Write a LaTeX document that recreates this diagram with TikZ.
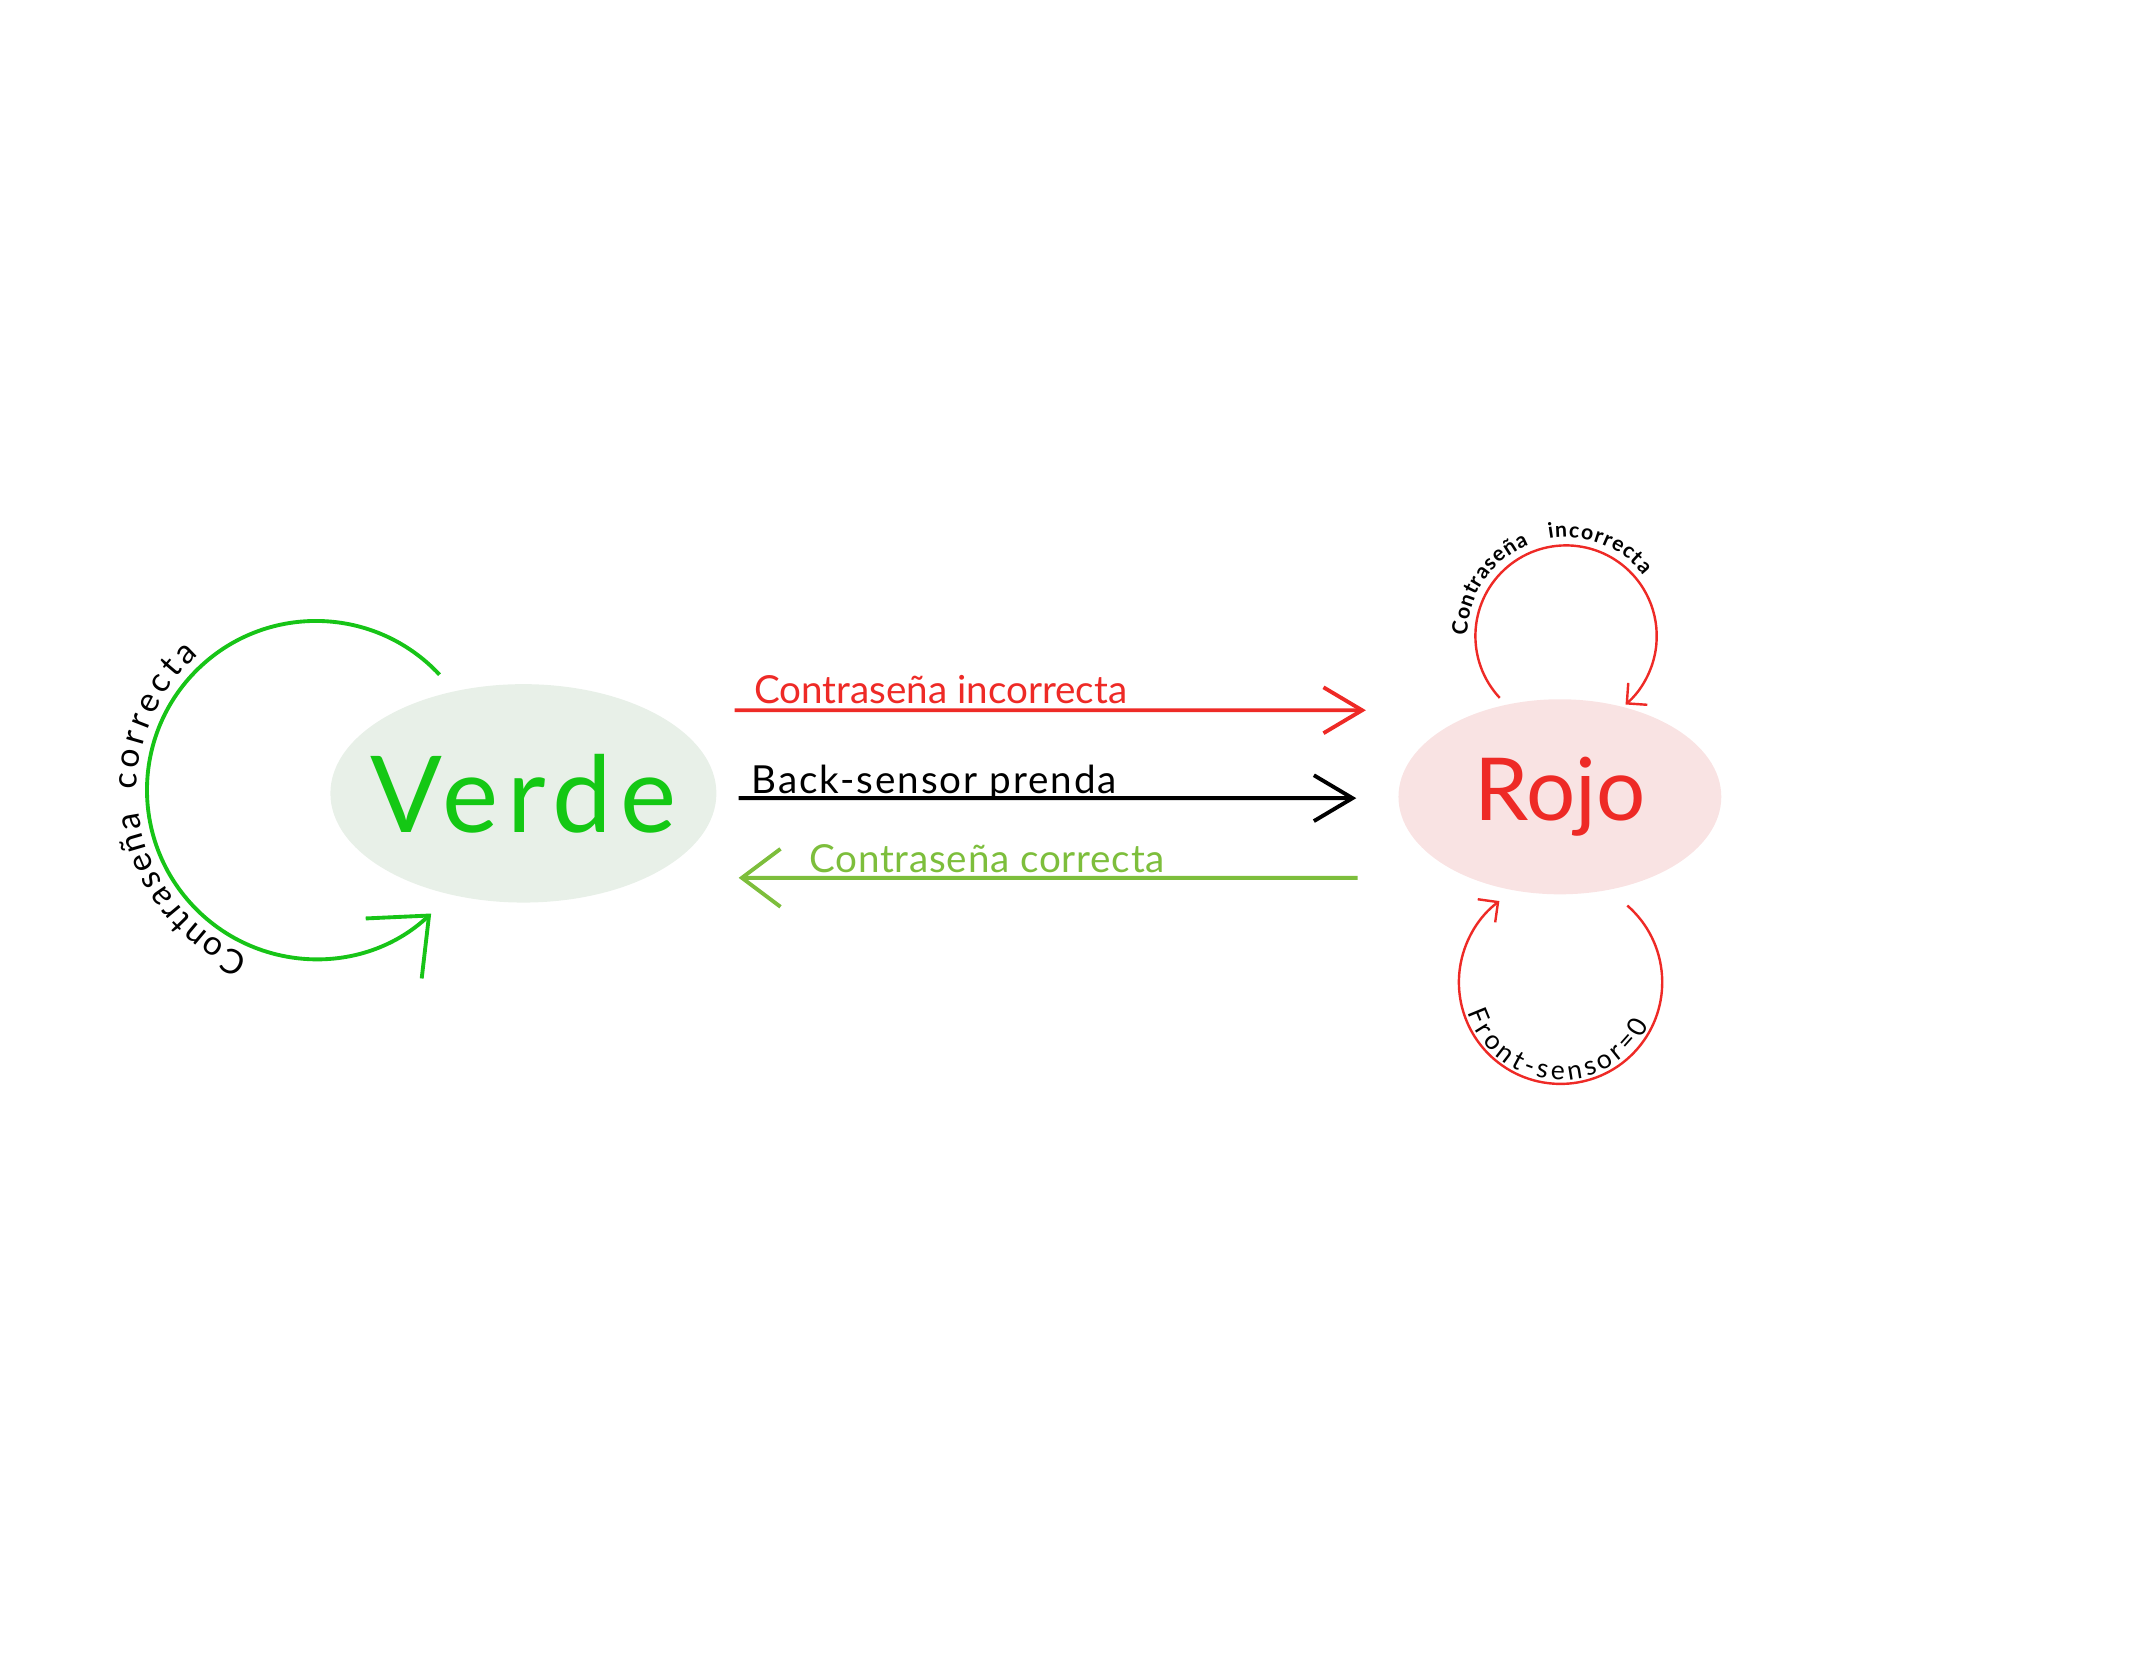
\documentclass[tikz,border=0pt]{standalone}
\usepackage{fontspec}
\setmainfont{Lato}
\usetikzlibrary{shapes.geometric,arrows.meta,decorations.text}
\definecolor{verdefill}{HTML}{E8F0E8}
\definecolor{verdetxt}{HTML}{14C814}
\definecolor{loopgreen}{HTML}{17C417}
\definecolor{rojofill}{HTML}{F9E3E3}
\definecolor{rojotxt}{HTML}{EE2A26}
\definecolor{lima}{HTML}{7DBE3C}
\begin{document}
\begin{tikzpicture}
	\tikzstyle{every node}=[font=\fontsize{8}{10}\selectfont]
	\tikzstyle{state}=[ellipse, inner sep=0pt]
	\tikzstyle{bigtip}=[-{Straight Barb[length=8pt,width=9.5pt]}]
	\tikzstyle{lbl}=[anchor=base west, inner sep=0pt]
	\tikzstyle{redloop}=[rojotxt, line width=0.5pt, -{Straight Barb[length=3pt,width=6pt]}]
	\useasboundingbox (0,0) rectangle (15.68,-12.14);
	% states
	\node[state, inner xsep=-2mm, fill=verdefill, minimum width=2.81cm, minimum height=1.59cm] (verde) at (3.81,-5.775) {\fontsize{22}{26}\selectfont\addfontfeature{LetterSpace=8}\color{verdetxt}Verde};
	\node[state, fill=rojofill, minimum width=2.35cm, minimum height=1.42cm] (rojo) at (11.355,-5.80) {\fontsize{18}{22}\selectfont\color{rojotxt}Rojo};
	% transitions
	\draw[bigtip, rojotxt, line width=0.8pt] ([xshift=1.25mm,yshift=6.05mm]verde.east) -- node[lbl, pos=0.028, yshift=1.4pt, text=rojotxt] {Contraseña incorrecta} ([xshift=-2.3mm,yshift=6.3mm]rojo.west);
	\draw[bigtip, black, line width=0.8pt] ([xshift=1.55mm,yshift=-0.35mm]verde.east) -- node[lbl, pos=0.018, yshift=1pt] {\addfontfeature{LetterSpace=5}Back-sensor prenda} ([xshift=-3mm,yshift=-0.1mm]rojo.west);
	\draw[-{Straight Barb[length=8pt,width=12pt]}, lima, line width=0.8pt] ([xshift=-2.9mm,yshift=-5.9mm]rojo.west) -- node[lbl, pos=0.889, yshift=1.2pt, text=lima] {\addfontfeature{LetterSpace=2}Contraseña correcta} ([xshift=1.55mm,yshift=-6.15mm]verde.east);
	% self loops
	\draw[loopgreen, line width=0.8pt, -{Straight Barb[length=10pt,width=17pt]}] ([shift={(-1.51,0.025)}]verde.center) ++(43:1.23) arc[start angle=43, end angle=313, radius=1.23];
	\path[decorate, decoration={text along path, text={|\fontsize{7}{9}\selectfont|Contraseña}, text align={fit to path}, raise=1.5pt}] ([shift={(-1.51,0.025)}]verde.center) ++(-112:1.25) arc[start angle=-112, end angle=-173, radius=1.25];
	\path[decorate, decoration={text along path, text={|\fontsize{7}{9}\selectfont|correcta}, text align={fit to path}, raise=1.5pt}] ([shift={(-1.51,0.025)}]verde.center) ++(180:1.25) arc[start angle=180, end angle=131, radius=1.25];
	\draw[redloop] ([shift={(0.045,1.17)}]rojo.center) ++(223:0.66) arc[start angle=223, end angle=-49, radius=0.66];
	\path[decorate, decoration={text along path, text={|\fontsize{4.4}{6}\selectfont\bfseries|Contraseña}, text align={fit to path}, raise=0.5pt}] ([shift={(0.045,1.17)}]rojo.center) ++(180:0.70) arc[start angle=180, end angle=112, radius=0.70];
	\path[decorate, decoration={text along path, text={|\fontsize{4.4}{6}\selectfont\bfseries|incorrecta}, text align={fit to path}, raise=0.5pt}] ([shift={(0.045,1.17)}]rojo.center) ++(100:0.70) arc[start angle=100, end angle=38, radius=0.70];
	\draw[redloop] ([shift={(0.005,-1.35)}]rojo.center) ++(49:0.74) arc[start angle=49, end angle=-233, radius=0.74];
	\path[decorate, decoration={text along path, text={|\fontsize{5.5}{7}\selectfont|Front-sensor=0}, text align={fit to path}, raise=0.8pt}] ([shift={(0.005,-1.35)}]rojo.center) ++(198:0.74) arc[start angle=198, end angle=334, radius=0.74];
\end{tikzpicture}
\end{document}
